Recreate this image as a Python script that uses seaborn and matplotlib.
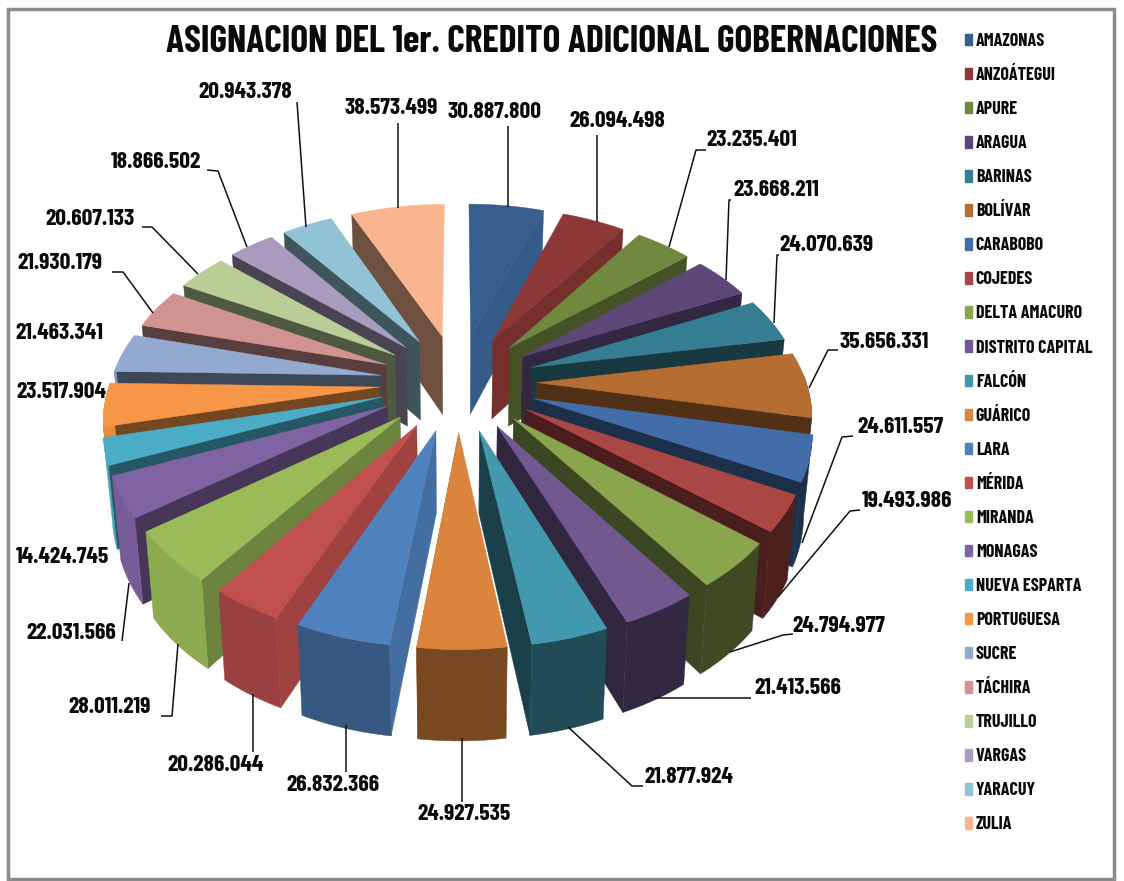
import numpy as np
import matplotlib
matplotlib.use("Agg")
import matplotlib.pyplot as plt
from matplotlib.patches import Patch, Rectangle
import seaborn as sns

# data
estados = ["AMAZONAS", "ANZOÁTEGUI", "APURE", "ARAGUA", "BARINAS", "BOLÍVAR", "CARABOBO", "COJEDES",
           "DELTA AMACURO", "DISTRITO CAPITAL", "FALCÓN", "GUÁRICO", "LARA", "MÉRIDA", "MIRANDA",
           "MONAGAS", "NUEVA ESPARTA", "PORTUGUESA", "SUCRE", "TÁCHIRA", "TRUJILLO", "VARGAS",
           "YARACUY", "ZULIA"]
montos = [30887800, 26094498, 23235401, 23668211, 24070639, 35656331, 24611557, 19493986,
          24794977, 21413566, 21877924, 24927535, 26832366, 20286044, 28011219, 22031566,
          14424745, 23517904, 21463341, 21930179, 20607133, 18866502, 20943378, 38573499]
colores = ["#375E8D", "#8C3836", "#71893F", "#5C4776", "#357D91", "#B66D31",
           "#426DA9", "#AA4643", "#89A54E", "#71588F", "#4198AF", "#DB843D",
           "#4F81BD", "#C0504D", "#9BBB59", "#8064A2", "#4BACC6", "#F79646",
           "#93A9CF", "#D19392", "#B9CD96", "#A99BBD", "#91C3D5", "#F9B590"]

# label centres in pixels
label_x = [494, 617, 752, 776, 826, 884, 900, 907, 839, 798, 689, 464, 333, 216, 110, 71, 62, 61, 59, 60, 90, 156, 245, 391]
label_y = [112, 121, 140, 190, 245, 342, 427, 501, 626, 688, 777, 814, 785, 765, 707, 633, 557, 392, 333, 263, 219, 162, 92, 108]

# leader lines
guias = [
    [(508, 126), (508, 207)],
    [(597, 135), (597, 222)],
    [(706, 150), (696, 150), (669, 247)],
    [(731, 200), (729, 200), (726, 280)],
    [(779, 255), (777, 255), (774, 323)],
    [(838, 350), (828, 350), (809, 388)],
    [(853, 436), (842, 437), (802, 543)],
    [(860, 510), (850, 511), (778, 597)],
    [(793, 634), (783, 635), (730, 652)],
    [(751, 698), (654, 698)],
    [(643, 786), (632, 786), (568, 727)],
    [(462, 802), (462, 738)],
    [(346, 772), (346, 725)],
    [(253, 752), (253, 694)],
    [(161, 716), (172, 716), (178, 644)],
    [(122, 641), (129, 583)],
    [],
    [],
    [],
    [(112, 272), (123, 272), (153, 313)],
    [(142, 227), (152, 227), (198, 274)],
    [(207, 170), (218, 171), (247, 247)],
    [(297, 102), (306, 227)],
    [(398, 123), (398, 208)],
]

sns.set_theme(style="white")
narrow = ["Barlow Condensed", "PT Sans Narrow", "Liberation Sans", "DejaVu Sans"]
paleta = sns.color_palette(colores)

# camera of the fake 3d pie
CX, VC, RX, KY, PERSP = 458, 382, 348, 214, 0.2
RADIO, EXPLOTA, ALTO = 0.774, 0.226, 80


def proyectar(x, y, abajo=False):
    s = 1 / (1 + PERSP * y)
    u = CX + RX * x * s
    v = VC - KY * y * s
    if abajo:
        u = CX + (u - CX) * 0.975
        v = v + ALTO * s ** 0.6
    return u, v


def oscuro(color, factor):
    return tuple(np.array(color) * factor)


def luz_lado(borde):
    return np.interp(borde, [0, 20, 35, 50, 65, 80, 180, 187, 200, 214, 233, 250, 270, 360],
                     [.97, .97, .85, .6, .55, .45, .42, .85, .87, .73, .55, .5, .42, .45])


def luz_fondo(medio):
    return np.interp(medio, [0, 150, 165, 180, 195, 205, 220, 240, 360],
                     [.45, .45, .5, .55, .68, .75, .9, .93, .93])


fig = plt.figure(figsize=(11.24, 8.81), dpi=100)
ax = fig.add_axes([0, 0, 1, 1])
ax.set_xlim(0, 1124)
ax.set_ylim(881, 0)
ax.axis("off")

ax.add_patch(Rectangle((8, 9), 1106, 870, fill=False, ec="#8C8C8C", lw=2.5))

cortes = np.cumsum([0] + montos) / sum(montos) * 360
medios = (cortes[:-1] + cortes[1:]) / 2
orden = np.argsort(-np.cos(np.radians(medios)))

for i in orden:
    a0, a1, am = cortes[i], cortes[i + 1], medios[i]
    ex = EXPLOTA * np.sin(np.radians(am))
    ey = EXPLOTA * np.cos(np.radians(am))
    th = np.radians(np.linspace(a0, a1, 30))
    xs = RADIO * np.sin(th) + ex
    ys = RADIO * np.cos(th) + ey
    color = paleta[i]

    # side wall facing the viewer
    borde = a1 if am < 180 else a0
    bx = RADIO * np.sin(np.radians(borde)) + ex
    by = RADIO * np.cos(np.radians(borde)) + ey
    px = np.array([ex, bx])
    py = np.array([ey, by])
    u1, v1 = proyectar(px, py)
    u2, v2 = proyectar(px, py, True)
    c = oscuro(color, luz_lado(borde))
    ax.fill(np.r_[u1, u2[::-1]], np.r_[v1, v2[::-1]], color=c, lw=0.3)

    # outer wall, only the part turned to the viewer
    delante = np.cos(th) < 0.05
    if delante.sum() > 1:
        u1, v1 = proyectar(xs[delante], ys[delante])
        u2, v2 = proyectar(xs[delante], ys[delante], True)
        c = oscuro(color, luz_fondo(am))
        ax.fill(np.r_[u1, u2[::-1]], np.r_[v1, v2[::-1]], color=c, lw=0.3)

    # top face
    u1, v1 = proyectar(np.r_[xs, ex], np.r_[ys, ey])
    ax.fill(u1, v1, color=color, lw=0.3)

for i, monto in enumerate(montos):
    texto = f"{monto:,}".replace(",", ".")
    ax.text(label_x[i], label_y[i], texto, ha="center", va="center", family=narrow,
            fontweight="bold", fontsize=17, color="#0A0A0A")
    if guias[i]:
        g = np.array(guias[i])
        ax.plot(g[:, 0], g[:, 1], color="#111111", lw=1.1, solid_capstyle="butt")

ax.text(552, 42, "ASIGNACION DEL 1er. CREDITO ADICIONAL GOBERNACIONES", ha="center", va="center",
        family=narrow, fontweight="bold", fontsize=27, color="#0A0A0A")

handles = [Patch(color=paleta[i], label=e) for i, e in enumerate(estados)]
ley = ax.legend(handles=handles, loc="upper left", bbox_to_anchor=(965, 33), bbox_transform=ax.transData,
                frameon=False, ncol=1, handlelength=0.4, handleheight=0.6, handletextpad=0.2,
                labelspacing=0.945, borderpad=0, borderaxespad=0,
                prop={"family": narrow, "weight": "bold", "size": 13})
for t in ley.get_texts():
    t.set_color("#0A0A0A")

fig.savefig("out.png", dpi=100)
